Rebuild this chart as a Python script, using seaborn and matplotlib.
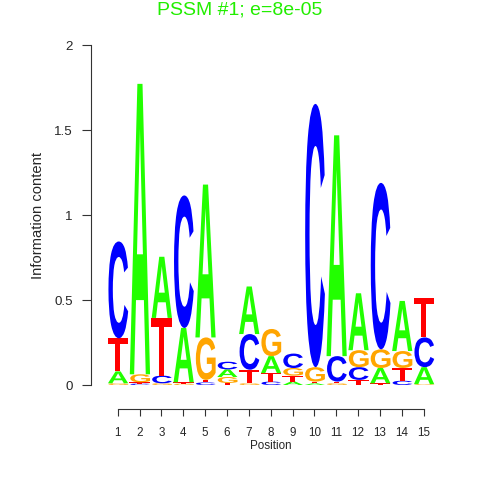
import numpy as np
import pandas as pd
import seaborn as sns
import matplotlib
matplotlib.use("Agg")
import matplotlib.pyplot as plt
from matplotlib.textpath import TextPath
from matplotlib.patches import PathPatch
from matplotlib.font_manager import FontProperties
from matplotlib.transforms import Affine2D

# ---- data (information content per letter, per position) ----
positions = list(range(1, 16))
bases = ["A", "C", "G", "T"]
ic_A = [0.07, 1.71, 0.36, 0.32, 0.90, 0.045, 0.28, 0.10, 0.02, 0.01, 1.30, 0.335, 0.09, 0.295, 0.10]
ic_C = [0.57, 0.008, 0.045, 0.78, 0.015, 0.045, 0.21, 0.02, 0.085, 1.55, 0.15, 0.075, 0.98, 0.025, 0.175]
ic_G = [0.01, 0.047, 0.01, 0.008, 0.25, 0.035, 0.01, 0.16, 0.045, 0.085, 0.01, 0.10, 0.11, 0.10, 0.005]
ic_T = [0.195, 0.008, 0.34, 0.008, 0.015, 0.012, 0.08, 0.05, 0.035, 0.01, 0.01, 0.03, 0.01, 0.075, 0.235]
yticks = [0, 0.5, 1, 1.5, 2]
ytick_labels = ["0", "0.5", "1", "1.5", "2"]
title = "PSSM #1; e=8e-05"

colors = {"A": "#22FF00", "C": "#0000FF", "G": "#FFA500", "T": "#FF0000"}

df = pd.DataFrame({"pos": positions, "A": ic_A, "C": ic_C, "G": ic_G, "T": ic_T})

sns.set_theme(style="ticks")
plt.rcParams["font.family"] = ["Liberation Sans", "DejaVu Sans"]

fig = plt.figure(figsize=(4.8, 4.8), dpi=100)
L, R = 90.7, 450.7
B, T = 385.0, 45.3
ax = fig.add_axes([L / 480, 1 - B / 480, (R - L) / 480, (B - T) / 480])
ax.set_xlim(-0.235, 16.235)
ax.set_ylim(0, 2)

fp = FontProperties(family="Liberation Sans", weight="bold")
glyphs = {}
for b in bases:
    p = TextPath((0, 0), b, size=1, prop=fp)
    v = p.vertices
    glyphs[b] = (p, v[:, 0].min(), v[:, 0].max(), v[:, 1].min(), v[:, 1].max())

width = 0.96
for _, row in df.iterrows():
    x = row["pos"]
    items = sorted([(row[b], b) for b in bases])
    y0 = 0.0
    for h, b in items:
        if h > 0:
            p, x0, x1, yb, yt = glyphs[b]
            tr = (Affine2D().translate(-x0, -yb)
                  .scale(width / (x1 - x0), h / (yt - yb))
                  .translate(x - width / 2, y0))
            patch = PathPatch(p, transform=tr + ax.transData, facecolor=colors[b],
                              edgecolor="none", lw=0)
            ax.add_patch(patch)
        y0 += h

sns.despine(ax=ax, offset={"bottom": 17, "left": 0})
ax.spines["left"].set_bounds(0, 2)
ax.spines["bottom"].set_bounds(1, 15)
for s in ["left", "bottom"]:
    ax.spines[s].set_color("#333333")
    ax.spines[s].set_linewidth(0.8)

ax.set_yticks(yticks)
ax.set_yticklabels(ytick_labels, fontsize=9.6)
ax.set_xticks(positions)
ax.set_xticklabels([str(p) for p in positions], fontsize=8.4)
ax.tick_params(axis="y", length=6.5, width=0.8, color="#333333", pad=6.5)
ax.tick_params(axis="x", length=5, width=0.8, color="#333333", pad=8)
ax.set_xlabel("Position", fontsize=8.4)
ax.set_ylabel("Information content", fontsize=10.6)
ax.xaxis.set_label_coords((270.7 - L) / (R - L), -(445.7 - B) / (B - T))
ax.yaxis.set_label_coords(-(L - 38) / (R - L), (B - 215) / (B - T))
ax.xaxis.label.set_va("center")
ax.yaxis.label.set_va("center")
ax.grid(False)

fig.text(0.5, 1 - 10 / 480, title, color="#22EE00", fontsize=14, ha="center", va="center")

fig.savefig("out.png", dpi=100)
